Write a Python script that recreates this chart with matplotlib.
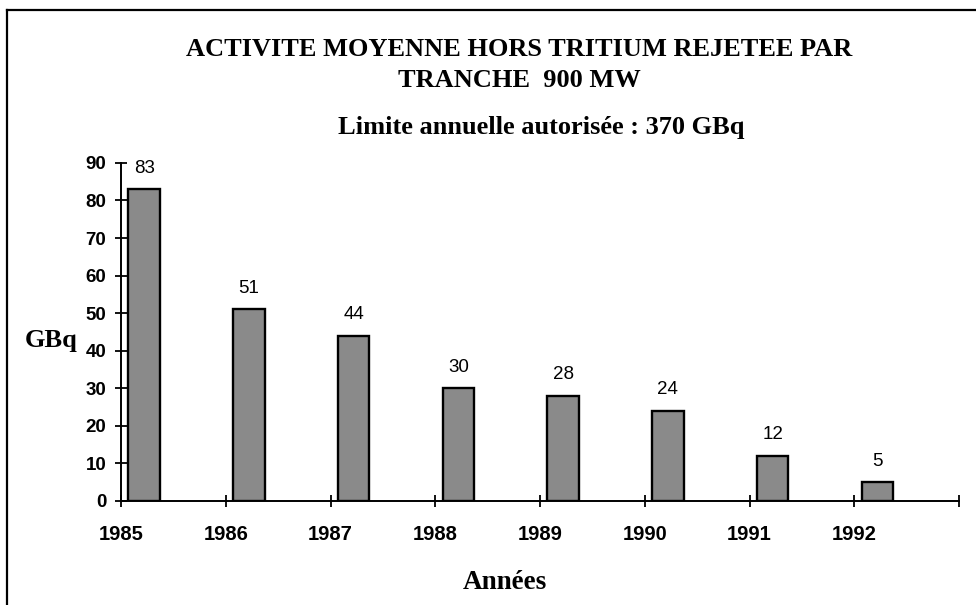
import matplotlib.pyplot as plt
from matplotlib.lines import Line2D

# =========================
# DATA
# =========================
years = [1985, 1986, 1987, 1988, 1989, 1990, 1991, 1992]
activity_gbq = [83, 51, 44, 30, 28, 24, 12, 5]
y_ticks = [0, 10, 20, 30, 40, 50, 60, 70, 80, 90]

TITLE = "ACTIVITE MOYENNE HORS TRITIUM REJETEE PAR\nTRANCHE  900 MW"
SUBTITLE = "Limite annuelle autorisée : 370 GBq"
SERIF = "Liberation Serif"
SANS = "Liberation Sans"

# =========================
# FIGURE
# =========================
fig = plt.figure(figsize=(9.76, 6.05), dpi=100)
ax = fig.add_axes([0.124, 0.172, 0.8586, 0.5587])

# bars sit just right of each year tick
bars = ax.bar([y + 0.07 for y in years], activity_gbq, width=0.30, align="edge",
              color="#8a8a8a", edgecolor="black", linewidth=1.7)

for b, v in zip(bars, activity_gbq):
    ax.annotate(str(v), (b.get_x() + b.get_width() / 2, v), xytext=(0, 9),
                textcoords="offset points", ha="center", va="bottom",
                fontsize=13.5, family=SANS)

ax.set_xlim(years[0], years[-1] + 1)
ax.set_ylim(0, 90)
ax.set_yticks(y_ticks)
ax.set_xticks(years + [years[-1] + 1])
ax.set_xticklabels([str(y) for y in years] + [""])

for s in ["top", "right"]:
    ax.spines[s].set_visible(False)
for s in ["left", "bottom"]:
    ax.spines[s].set_linewidth(1.4)

ax.tick_params(axis="both", direction="inout", length=9, width=1.3)
ax.tick_params(axis="x", pad=13)
ax.tick_params(axis="y", pad=6)
for lbl in ax.get_xticklabels():
    lbl.set_fontfamily(SANS)
    lbl.set_fontsize(14.5)
    lbl.set_fontweight("bold")
for lbl in ax.get_yticklabels():
    lbl.set_fontfamily(SANS)
    lbl.set_fontsize(13.5)
    lbl.set_fontweight("bold")

# titles and axis labels
fig.text(0.532, 0.893, TITLE, ha="center", va="center", fontsize=19,
         fontweight="bold", family=SERIF, linespacing=1.45)
fig.text(0.555, 0.79, SUBTITLE, ha="center", va="center", fontsize=19,
         fontweight="bold", family=SERIF)
fig.text(0.052, 0.437, "GBq", ha="center", va="center", fontsize=19,
         fontweight="bold", family=SERIF)
fig.text(0.517, 0.037, "Années", ha="center", va="center", fontsize=19.5,
         fontweight="bold", family=SERIF)

# frame (top and left edges of the scanned box)
fig.add_artist(Line2D([0.007, 1.0], [0.984, 0.984], color="black", lw=1.6,
                      transform=fig.transFigure))
fig.add_artist(Line2D([0.007, 0.007], [0.0, 0.984], color="black", lw=1.6,
                      transform=fig.transFigure))

fig.savefig("out.png", dpi=100)
